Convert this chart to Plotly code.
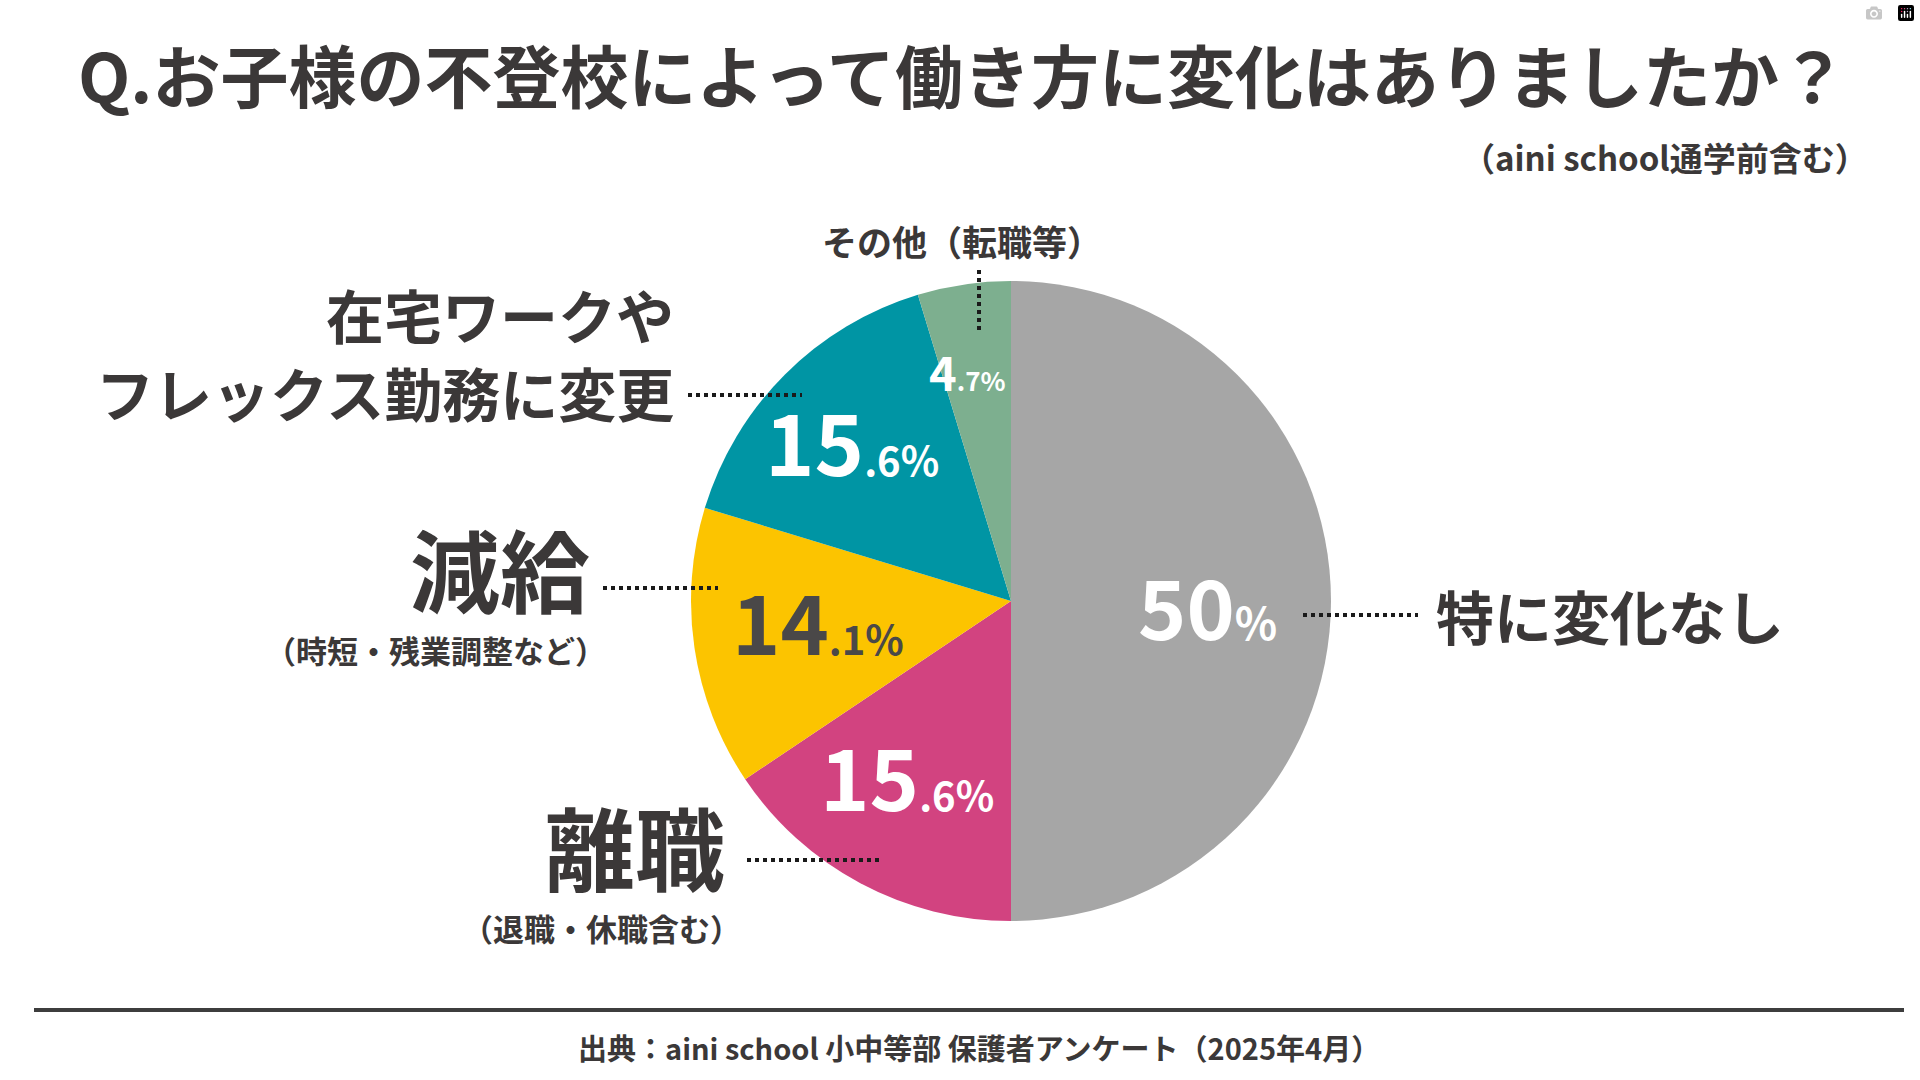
import math
import plotly.graph_objects as go

# ---- data ----
categories = ["特に変化なし", "離職", "減給", "在宅ワークやフレックス勤務に変更", "その他（転職等）"]
values = [50.0, 15.6, 14.1, 15.6, 4.7]
pct_int = ["50", "15", "14", "15", "4"]
pct_dec = ["%", ".6%", ".1%", ".6%", ".7%"]

title_text = "Q.お子様の不登校によって働き方に変化はありましたか？"
subtitle_text = "（aini school通学前含む）"
source_text = "出典：aini school 小中等部 保護者アンケート（2025年4月）"
wfh_lines = ["在宅ワークや", "フレックス勤務に変更"]

# ---- styles / layout ----
W, H = 1920, 1080
CX, CY, R = 1011, 601, 320
colors = ["#A6A6A6", "#D24380", "#FCC400", "#0095A4", "#7DAF8F"]
pct_colors = ["#FFFFFF", "#FFFFFF", "#4A4848", "#FFFFFF", "#FFFFFF"]
big_sizes = [82, 84, 82, 84, 47]
small_sizes = [44, 40, 40, 40, 26]
label_r = [0.616, 0.647, 0.608, 0.698, 0.719]
angle_off = [2.6, 2.1, 1.4, -0.4, -2.5]
TXT = "#3B3838"
FONT = "Noto Sans CJK JP"


def px(x):
    return x / W


def py(y):
    return 1 - y / H


fig = go.Figure()
fig.add_trace(go.Pie(
    labels=categories,
    values=values,
    sort=False,
    direction="clockwise",
    rotation=0,
    marker=dict(colors=colors, line=dict(width=0)),
    textinfo="none",
    hoverinfo="skip",
    showlegend=False,
    domain=dict(x=[px(CX - R), px(CX + R)], y=[py(CY + R), py(CY - R)]),
))

annotations = []
total = sum(values)
cum = 0.0
for i, v in enumerate(values):
    mid = (cum + v / 2) / total * 360 + angle_off[i]
    cum += v
    th = math.radians(mid)
    xx = CX + label_r[i] * R * math.sin(th)
    yy = CY - label_r[i] * R * math.cos(th)
    txt = (f"<span style='font-size:{big_sizes[i]}px'>{pct_int[i]}</span>"
           f"<span style='font-size:{small_sizes[i]}px'>{pct_dec[i]}</span>")
    annotations.append(dict(
        x=px(xx), y=py(yy - 5), xref="paper", yref="paper",
        text=txt, showarrow=False, xanchor="center", yanchor="middle",
        font=dict(family=FONT, size=big_sizes[i], color=pct_colors[i], weight=700),
    ))


def add_text(text, x, y, size, xanchor="center", align="center", color=TXT):
    annotations.append(dict(
        x=px(x), y=py(y), xref="paper", yref="paper", text=text,
        showarrow=False, xanchor=xanchor, yanchor="middle", align=align,
        font=dict(family=FONT, size=size, color=color, weight=700),
    ))


add_text(title_text, 76, 73, 68, xanchor="left", align="left")
add_text(subtitle_text, 1870, 157, 33, xanchor="right", align="right")
add_text(categories[4], 962, 240, 35)
add_text(wfh_lines[0], 676, 314, 58, xanchor="right", align="right")
add_text(wfh_lines[1], 676, 392, 58, xanchor="right", align="right")
add_text("減給", 592, 567, 90, xanchor="right", align="right")
add_text("（時短・残業調整など）", 608, 649, 31, xanchor="right", align="right")
add_text("離職", 727, 845, 90, xanchor="right", align="right")
add_text("（退職・休職含む）", 743, 927, 31, xanchor="right", align="right")
add_text(categories[0], 1434, 615, 58, xanchor="left", align="left")
add_text(source_text, 979, 1047, 29)

shapes = []


def dotted(x0, y0, x1, y1):
    shapes.append(dict(type="line", xref="paper", yref="paper",
                       x0=px(x0), y0=py(y0), x1=px(x1), y1=py(y1),
                       line=dict(color="#1A1A1A", width=4, dash="dot")))


dotted(979, 270, 979, 330)
dotted(688, 395, 802, 395)
dotted(603, 588, 718, 588)
dotted(747, 860, 880, 860)
dotted(1303, 615, 1418, 615)

shapes.append(dict(type="line", xref="paper", yref="paper",
                   x0=px(34), y0=py(1010), x1=px(1904), y1=py(1010),
                   line=dict(color="#3D3D3D", width=4)))

fig.update_layout(
    width=W, height=H,
    margin=dict(l=0, r=0, t=0, b=0),
    paper_bgcolor="white", plot_bgcolor="white",
    annotations=annotations, shapes=shapes,
)

fig.write_html("out.html", post_script="document.body.style.margin='0';document.body.style.overflow='hidden';")
